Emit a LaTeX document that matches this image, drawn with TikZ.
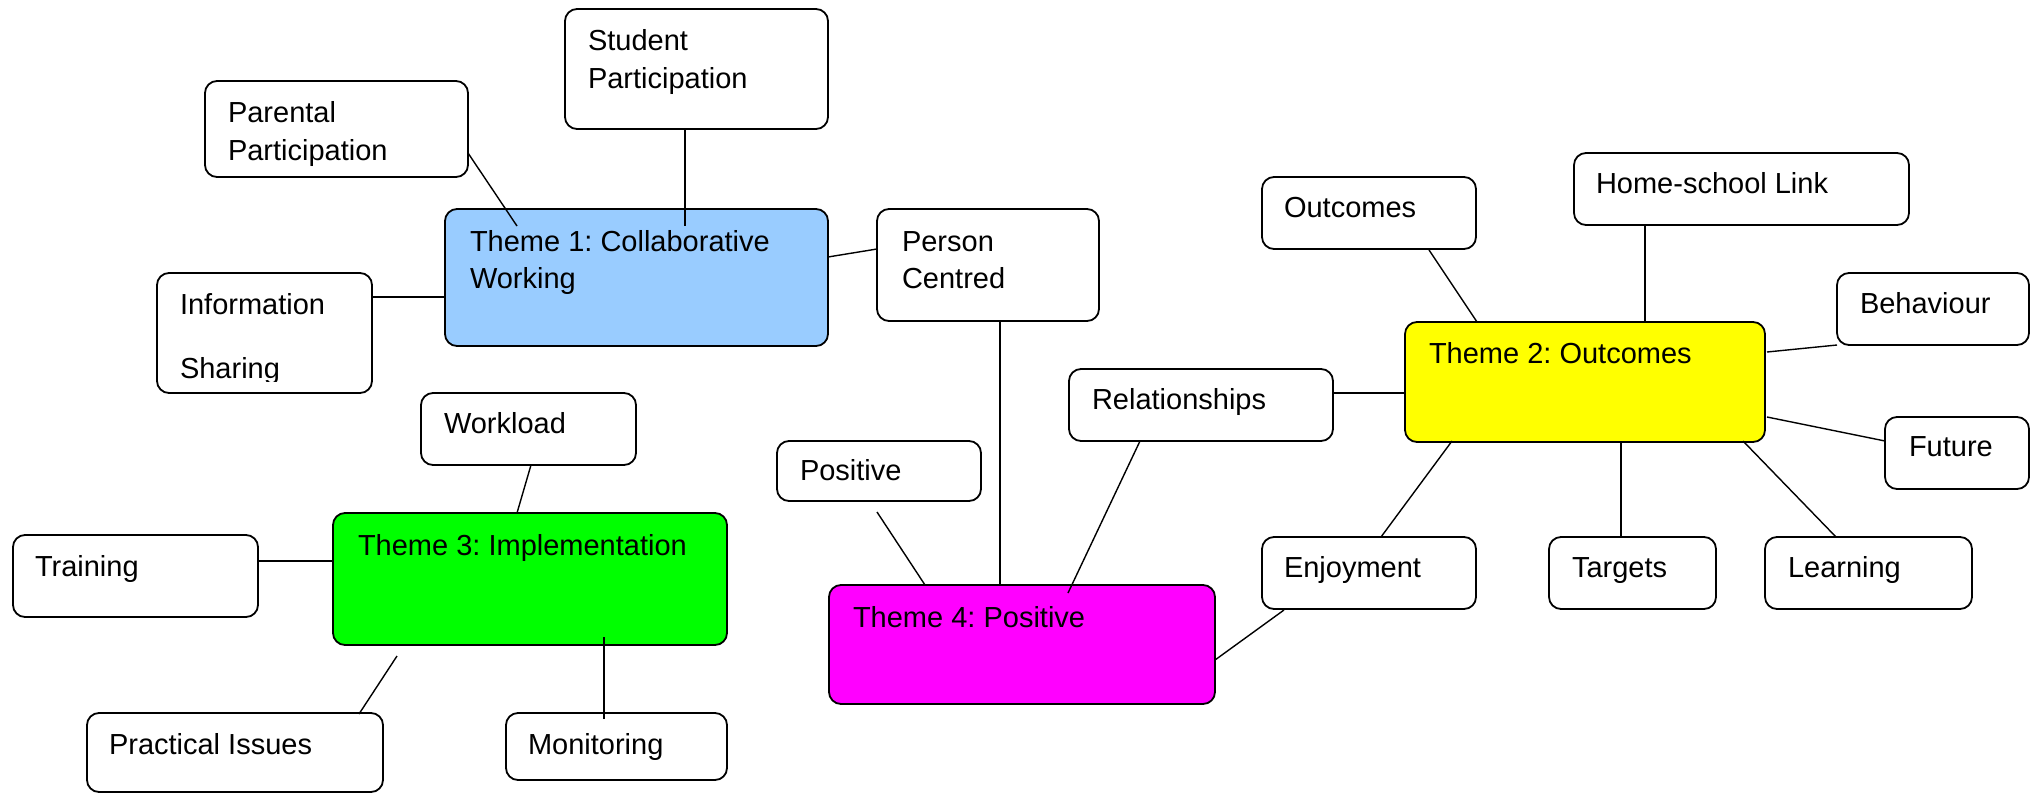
\documentclass[tikz,border=0pt]{standalone}
\usepackage{fontspec}
\setmainfont{Liberation Sans}
\frenchspacing
\definecolor{tblue}{HTML}{99CCFF}
\definecolor{tyellow}{HTML}{FFFF00}
\definecolor{tgreen}{HTML}{00FF00}
\definecolor{tmagenta}{HTML}{FF00FF}
\tikzset{
  box/.style={draw=black, line width=1.8pt, rounded corners=12pt, fill=white,
    inner sep=0pt, outer sep=0pt, anchor=north west},
  conn/.style={draw=black, line width=1.4pt},
  txt/.style={anchor=base west, inner sep=0pt, outer sep=0pt, font=\fontsize{29}{35}\selectfont\frenchspacing},
}
\begin{document}
\begin{tikzpicture}[x=1pt,y=-1pt]
\useasboundingbox (0,0) rectangle (2040,795);
% boxes
\node[box, minimum width=263pt, minimum height=120pt] (sp) at (565,9) {};
\node[box, minimum width=263pt, minimum height=96pt] (pp) at (205,81) {};
\node[box, fill=tblue, minimum width=383pt, minimum height=137pt] (t1) at (445,209) {};
\node[box, minimum width=215pt, minimum height=120pt] (is) at (157,273) {};
\node[box, minimum width=222pt, minimum height=112pt] (pc) at (877,209) {};
\node[box, minimum width=215pt, minimum height=72pt] (wl) at (421,393) {};
\node[box, fill=tgreen, minimum width=394pt, minimum height=132pt] (t3) at (333,513) {};
\node[box, minimum width=245pt, minimum height=82pt] (tr) at (13,535) {};
\node[box, minimum width=296pt, minimum height=79pt] (pi) at (87,713) {};
\node[box, minimum width=221pt, minimum height=67pt] (mo) at (506,713) {};
\node[box, minimum width=204pt, minimum height=60pt] (po) at (777,441) {};
\node[box, fill=tmagenta, minimum width=386pt, minimum height=119pt] (t4) at (829,585) {};
\node[box, minimum width=264pt, minimum height=72pt] (re) at (1069,369) {};
\node[box, minimum width=214pt, minimum height=72pt] (oc) at (1262,177) {};
\node[box, minimum width=335pt, minimum height=72pt] (hs) at (1574,153) {};
\node[box, minimum width=192pt, minimum height=72pt] (be) at (1837,273) {};
\node[box, fill=tyellow, minimum width=360pt, minimum height=120pt] (t2) at (1405,322) {};
\node[box, minimum width=144pt, minimum height=72pt] (fu) at (1885,417) {};
\node[box, minimum width=214pt, minimum height=72pt] (en) at (1262,537) {};
\node[box, minimum width=167pt, minimum height=72pt] (ta) at (1549,537) {};
\node[box, minimum width=207pt, minimum height=72pt] (le) at (1765,537) {};
% texts
\node[txt] (sp1) at (588,50) {Student};
\node[txt] (sp2) at (588,88) {Participation};
\node[txt] (pp1) at (228,122) {Parental};
\node[txt] (pp2) at (228,160) {Participation};
\node[txt] (t1a) at (470,251) {Theme 1: Collaborative};
\node[txt] (t1b) at (470,288) {Working};
\node[txt] (is1) at (180,314) {Information};
\begin{scope}
\clip (150,340) rectangle (380,381);
\node[txt] (is2) at (180,378) {Sharing};
\end{scope}
\node[txt] (pc1) at (902,251) {Person};
\node[txt] (pc2) at (902,288) {Centred};
\node[txt] (t2a) at (1429,363) {Theme 2: Outcomes};
\node[txt] (oca) at (1284,217) {Outcomes};
\node[txt] (hsa) at (1596,193) {Home-school Link};
\node[txt] (bea) at (1860,313) {Behaviour};
\node[txt] (rea) at (1092,409) {Relationships};
\node[txt] (fua) at (1909,456) {Future};
\node[txt] (ena) at (1284,577) {Enjoyment};
\node[txt] (taa) at (1572,577) {Targets};
\node[txt] (lea) at (1788,577) {Learning};
\node[txt] (poa) at (800,480) {Positive};
\node[txt] (wla) at (444,433) {Workload};
\node[txt] (t3a) at (358,555) {Theme 3: Implementation};
\node[txt] (tra) at (35,576) {Training};
\node[txt] (pia) at (109,754) {Practical Issues};
\node[txt] (moa) at (528,754) {Monitoring};
\node[txt] (t4a) at (853,627) {Theme 4: Positive};
% connector end points
\coordinate (pp-o) at (468,153); \coordinate (t1-pp) at (517,226);
\coordinate (sp-o) at (685,129); \coordinate (t1-sp) at (685,226);
\coordinate (is-o) at (372,297); \coordinate (t1-is) at (445,297);
\coordinate (t1-pc) at (828,257); \coordinate (pc-i) at (877,249);
\coordinate (wl-o) at (531,465); \coordinate (t3-wl) at (517,513);
\coordinate (tr-o) at (258,561); \coordinate (t3-tr) at (333,561);
\coordinate (pi-o) at (359,714); \coordinate (pi-free) at (397,656);
\coordinate (mo-o) at (604,719); \coordinate (t3-mo) at (604,637);
\coordinate (po-free) at (877,512); \coordinate (t4-po) at (925,585);
\coordinate (pc-o) at (1000,321); \coordinate (t4-pc) at (1000,585);
\coordinate (re-o) at (1140,441); \coordinate (t4-re) at (1068,593);
\coordinate (en-o) at (1284,610); \coordinate (t4-en) at (1215,660);
\coordinate (oc-o) at (1429,250); \coordinate (t2-oc) at (1477,322);
\coordinate (hs-o) at (1645,225); \coordinate (t2-hs) at (1645,322);
\coordinate (be-o) at (1837,345); \coordinate (t2-be) at (1767,352);
\coordinate (re-r) at (1333,393); \coordinate (t2-re) at (1405,393);
\coordinate (fu-o) at (1885,441); \coordinate (t2-fu) at (1767,417);
\coordinate (en-t) at (1381,537); \coordinate (t2-en) at (1452,441);
\coordinate (ta-o) at (1621,537); \coordinate (t2-ta) at (1621,441);
\coordinate (le-o) at (1836,537); \coordinate (t2-le) at (1743,441);
% connectors
\draw[conn] (pp-o) -- (t1-pp);
\draw[conn] (sp-o) -- (t1-sp);
\draw[conn] (is-o) -- (t1-is);
\draw[conn] (t1-pc) -- (pc-i);
\draw[conn] (wl-o) -- (t3-wl);
\draw[conn] (tr-o) -- (t3-tr);
\draw[conn] (pi-o) -- (pi-free);
\draw[conn] (mo-o) -- (t3-mo);
\draw[conn] (po-free) -- (t4-po);
\draw[conn] (pc-o) -- (t4-pc);
\draw[conn] (re-o) -- (t4-re);
\draw[conn] (en-o) -- (t4-en);
\draw[conn] (oc-o) -- (t2-oc);
\draw[conn] (hs-o) -- (t2-hs);
\draw[conn] (be-o) -- (t2-be);
\draw[conn] (re-r) -- (t2-re);
\draw[conn] (fu-o) -- (t2-fu);
\draw[conn] (en-t) -- (t2-en);
\draw[conn] (ta-o) -- (t2-ta);
\draw[conn] (le-o) -- (t2-le);
\end{tikzpicture}
\end{document}
